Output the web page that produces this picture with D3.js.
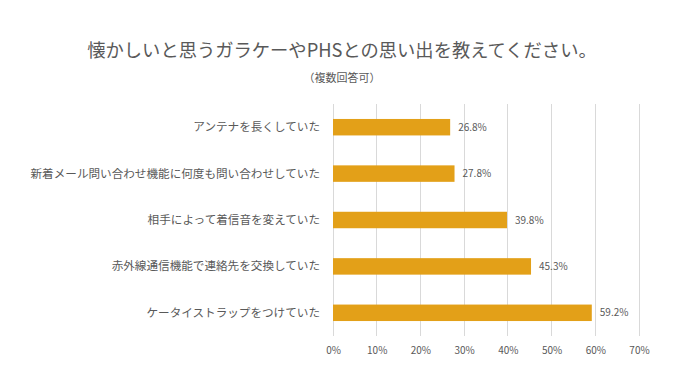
<!DOCTYPE html>
<html><head><meta charset="utf-8">
<script src="https://cdn.jsdelivr.net/npm/d3@7"></script>
<style>body{margin:0;background:#fff;}svg{display:block;font-family:"Noto Sans CJK JP","Noto Sans",sans-serif;}</style>
</head><body>
<svg id="c" width="684" height="386"></svg>
<script>
const categories = ["アンテナを長くしていた","新着メール問い合わせ機能に何度も問い合わせしていた","相手によって着信音を変えていた","赤外線通信機能で連絡先を交換していた","ケータイストラップをつけていた"];
const values = [26.8, 27.8, 39.8, 45.3, 59.2];
const ticks = [0,10,20,30,40,50,60,70];
const title = "懐かしいと思うガラケーやPHSとの思い出を教えてください。";
const subtitle = "（複数回答可）";

const svg = d3.select("#c");
const x = d3.scaleLinear().domain([0,70]).range([333,639]);
const y = d3.scaleBand().domain(categories).range([104,336]).paddingInner(0.645).paddingOuter(0.3225);
const grey = "#595959";

svg.append("text").attr("x",342).attr("y",57).attr("text-anchor","middle").attr("font-size",18.3).attr("fill",grey).text(title);
svg.append("text").attr("x",342).attr("y",82).attr("text-anchor","middle").attr("font-size",11).attr("fill",grey).text(subtitle);

svg.append("g").selectAll("line").data(ticks).join("line")
  .attr("x1",d=>x(d)).attr("x2",d=>x(d)).attr("y1",104).attr("y2",336)
  .attr("stroke","#d9d9d9").attr("stroke-width",1).attr("shape-rendering","crispEdges");

const ax = svg.append("g").attr("transform","translate(0,336)")
  .call(d3.axisBottom(x).tickValues(ticks).tickFormat(d=>d+"%").tickSize(0).tickPadding(11));
ax.select(".domain").remove();
ax.selectAll("text").attr("font-size",10).attr("fill",grey).attr("font-family","'Noto Sans CJK JP',sans-serif");

svg.append("g").selectAll("rect").data(values).join("rect")
  .attr("x",x(0)).attr("y",(d,i)=>y(categories[i])).attr("width",d=>x(d)-x(0)).attr("height",y.bandwidth())
  .attr("fill","#E3A018");

svg.append("g").selectAll("text").data(values).join("text")
  .attr("x",d=>x(d)+8).attr("y",(d,i)=>y(categories[i])+y.bandwidth()/2).attr("dy","0.35em")
  .attr("font-size",10).attr("fill",grey).text(d=>d.toFixed(1)+"%");

svg.append("g").selectAll("text").data(categories).join("text")
  .attr("x",320).attr("y",d=>y(d)+y.bandwidth()/2).attr("dy","0.35em").attr("text-anchor","end")
  .attr("font-size",11.6).attr("fill",grey).text(d=>d);
</script>
</body></html>
